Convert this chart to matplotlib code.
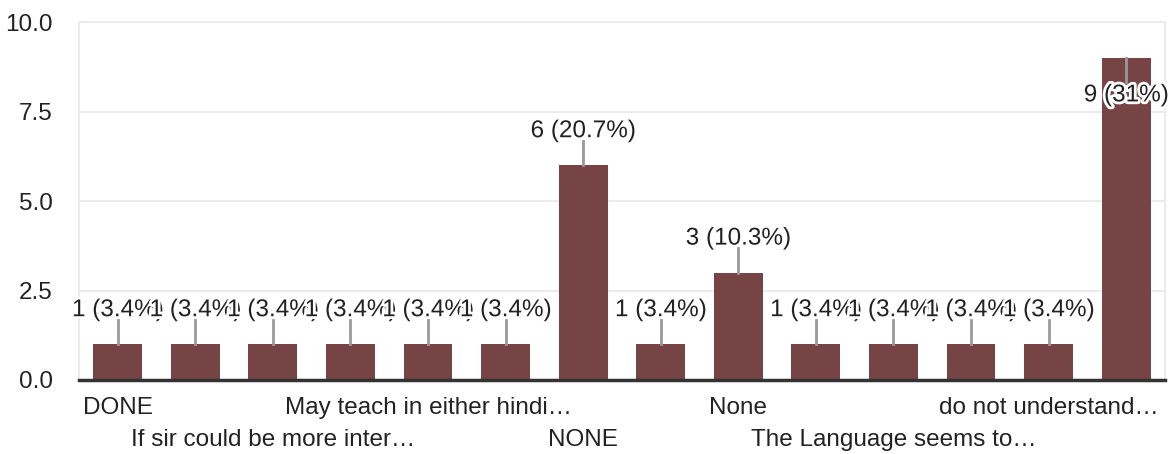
import numpy as np
import matplotlib
matplotlib.use('Agg')
import matplotlib.pyplot as plt
import matplotlib.patheffects as pe

plt.rcParams['font.family'] = ['Liberation Sans', 'DejaVu Sans']

# responses (only every other category name is shown on the axis)
tick_labels = ['DONE', '', 'If sir could be more inter\u2026', '',
               'May teach in either hindi\u2026', '', 'NONE', '',
               'None', '', 'The Language seems to\u2026', '',
               'do not understand\u2026', '']
counts = [1, 1, 1, 1, 1, 1, 6, 1, 3, 1, 1, 1, 1, 9]
percents = ['3.4%', '3.4%', '3.4%', '3.4%', '3.4%', '3.4%', '20.7%',
            '3.4%', '10.3%', '3.4%', '3.4%', '3.4%', '3.4%', '31%']

bar_col = '#774445'
txt_col = '#222222'
fs = 17.5

fig = plt.figure(figsize=(11.72, 4.54), dpi=100)
ax = fig.add_axes([0.0674, 0.163, 0.9266, 0.7885])

x = np.arange(len(counts))
ax.bar(x, counts, width=0.63, color=bar_col, zorder=2)

ax.set_xlim(-0.5, len(counts) - 0.5)
ax.set_ylim(0, 10)
ax.set_yticks([0, 2.5, 5, 7.5, 10])
ax.set_yticklabels(['0.0', '2.5', '5.0', '7.5', '10.0'])
ax.grid(axis='y', color='#ebebeb', lw=1.5, zorder=0)
ax.tick_params(axis='y', length=0, pad=19, labelsize=fs, labelcolor=txt_col)
ax.set_xticks([])

for s in ['left', 'right', 'top']:
    ax.spines[s].set_color('#ebebeb')
    ax.spines[s].set_linewidth(1.5)
ax.spines['bottom'].set_color('#333333')
ax.spines['bottom'].set_linewidth(2.5)
ax.spines['bottom'].set_zorder(4)

# category labels in two staggered rows
row = 0
for i, lab in enumerate(tick_labels):
    if not lab:
        continue
    yoff = -28 if row == 0 else -60
    ax.annotate(lab, (i, 0), xytext=(0, yoff), textcoords='offset pixels',
                ha='center', va='center', fontsize=fs, color=txt_col,
                annotation_clip=False)
    row = 1 - row

# value labels with leader lines
halo = [pe.withStroke(linewidth=4, foreground='white')]
for i, (c, p) in enumerate(zip(counts, percents)):
    if c + 1.2 > 10:
        ax.plot([i, i], [c, c - 0.68], color='#999999', lw=2, zorder=3)
        ty = c - 1.05
    else:
        ax.plot([i, i], [c, c + 0.68], color='#999999', lw=2, zorder=3)
        ty = c + 0.95
    ax.text(i, ty, '%d (%s)' % (c, p), ha='center', va='center',
            fontsize=fs, color=txt_col, path_effects=halo, zorder=5 + i)

fig.savefig('out.png', dpi=100)
